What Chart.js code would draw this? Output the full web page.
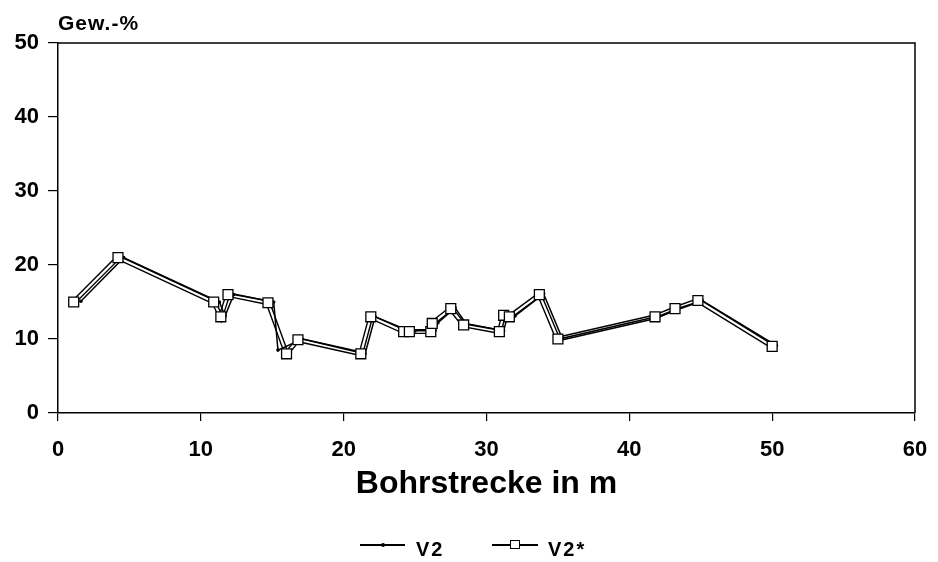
<!DOCTYPE html>
<html>
<head>
<meta charset="utf-8">
<script src="https://cdn.jsdelivr.net/npm/chart.js@4/dist/chart.umd.min.js"></script>
<style>
  body { margin: 0; background: #fff; }
  #wrap { position: relative; width: 938px; height: 562px; font-family: "Liberation Sans", Arial, sans-serif; }
  .txt { position: absolute; font-weight: bold; color: #000; white-space: nowrap; line-height: 1; }
  .ln { position: absolute; height: 2px; background: #000; }
  .dot { position: absolute; width: 4px; height: 4px; background: #000; border-radius: 2px; }
  .sq { position: absolute; width: 8px; height: 7px; border: 1.5px solid #000; background: #fff; }
</style>
</head>
<body>
<div id="wrap">
  <canvas id="chart" width="938" height="562"></canvas>
  <div class="txt" style="left:58px; top:12px; font-size:21px; letter-spacing:1px;">Gew.-%</div>
  <div class="ln" style="left:360px; top:544px; width:45px;"></div>
  <div class="dot" style="left:381px; top:543px;"></div>
  <div class="txt" style="left:416px; top:539px; font-size:20px; letter-spacing:2px;">V2</div>
  <div class="ln" style="left:492px; top:544px; width:46px;"></div>
  <div class="sq" style="left:510px; top:540px;"></div>
  <div class="txt" style="left:548px; top:539px; font-size:20px; letter-spacing:2px;">V2*</div>
</div>
<script>
// V2* (Quadrate)
const xV2s = [1.1, 4.2, 10.9, 11.4, 11.9, 14.7, 16.0, 16.8, 21.2, 21.9, 24.2, 24.6, 26.1, 26.2, 27.5, 28.4, 30.9, 31.2, 31.6, 33.7, 35.0, 41.8, 43.2, 44.8, 50.0];
const yV2s = [15.0, 21.0, 15.0, 13.0, 16.0, 14.9, 8.0, 9.9, 8.0, 13.0, 11.0, 11.0, 11.0, 12.1, 14.1, 11.9, 11.0, 13.2, 13.0, 16.0, 10.0, 13.0, 14.1, 15.2, 9.0];
// V2 (Punkte)
const xV2 = [1.6, 4.6, 11.3, 11.7, 12.3, 15.1, 15.4, 17.1, 21.5, 22.2, 24.6, 25.0, 26.4, 26.6, 27.8, 28.6, 31.2, 31.5, 32.0, 34.0, 35.3, 42.1, 43.5, 45.1, 50.3];
const yV2 = [15.1, 21.0, 15.0, 13.1, 16.0, 15.0, 8.5, 10.0, 8.0, 13.0, 11.1, 11.1, 11.1, 12.2, 14.2, 12.0, 11.1, 13.3, 13.1, 16.1, 10.1, 13.1, 14.2, 15.2, 9.1];

const xTicks = [0, 10, 20, 30, 40, 50, 60];
const yTicks = [0, 10, 20, 30, 40, 50];

const pts = (xs, ys) => xs.map((x, i) => ({x: x, y: ys[i]}));
const tickFont = {family: "'Liberation Sans', Arial, sans-serif", size: 22, weight: 'bold'};

const frame = {
  id: 'frame',
  afterDraw(chart) {
    const a = chart.chartArea, ctx = chart.ctx;
    ctx.save();
    ctx.strokeStyle = '#000';
    ctx.lineWidth = 1.5;
    ctx.beginPath();
    ctx.moveTo(a.left, a.top);
    ctx.lineTo(a.right, a.top);
    ctx.lineTo(a.right, a.bottom);
    ctx.stroke();
    ctx.restore();
  }
};

new Chart(document.getElementById('chart'), {
  type: 'scatter',
  data: {
    datasets: [
      {label: 'V2* outline', data: pts(xV2s, yV2s), showLine: true, borderColor: '#000', borderWidth: 5, pointRadius: 0, order: 4},
      {label: 'V2* inner', data: pts(xV2s, yV2s), showLine: true, borderColor: '#fff', borderWidth: 2.2, pointRadius: 0, order: 3},
      {label: 'V2', data: pts(xV2, yV2), showLine: true, borderColor: '#000', borderWidth: 1.5,
        pointRadius: 1.8, pointBackgroundColor: '#000', pointBorderWidth: 0, order: 2},
      {label: 'V2*', data: pts(xV2s, yV2s), showLine: false, pointStyle: 'rect', pointRadius: 7,
        pointBackgroundColor: '#fff', pointBorderColor: '#000', pointBorderWidth: 1.3, order: 1}
    ]
  },
  options: {
    responsive: false,
    animation: false,
    layout: {padding: {left: 0, top: 43, right: 23, bottom: 0}},
    plugins: {legend: {display: false}, tooltip: {enabled: false}},
    scales: {
      x: {
        type: 'linear', min: 0, max: 60,
        afterBuildTicks: s => { s.ticks = xTicks.map(v => ({value: v})); },
        afterFit: s => { s.height = 149; s.paddingRight = 0; s.paddingLeft = 0; },
        grid: {drawOnChartArea: false, drawTicks: true, tickLength: 8, color: '#000', lineWidth: 1.2},
        border: {color: '#000', width: 1.5},
        ticks: {color: '#000', font: tickFont, padding: 16, maxRotation: 0},
        title: {display: true, text: 'Bohrstrecke in m', color: '#000',
          font: {family: "'Liberation Sans', Arial, sans-serif", size: 32, weight: 'bold'},
          padding: {top: 0, bottom: 59}}
      },
      y: {
        type: 'linear', min: 0, max: 50,
        afterBuildTicks: s => { s.ticks = yTicks.map(v => ({value: v})); },
        afterFit: s => { s.width = 58; s.paddingTop = 0; s.paddingBottom = 0; },
        grid: {drawOnChartArea: false, drawTicks: true, tickLength: 10, color: '#000', lineWidth: 1.2},
        border: {color: '#000', width: 1.5},
        ticks: {color: '#000', font: tickFont, padding: 9}
      }
    }
  },
  plugins: [frame]
});
</script>
</body>
</html>
